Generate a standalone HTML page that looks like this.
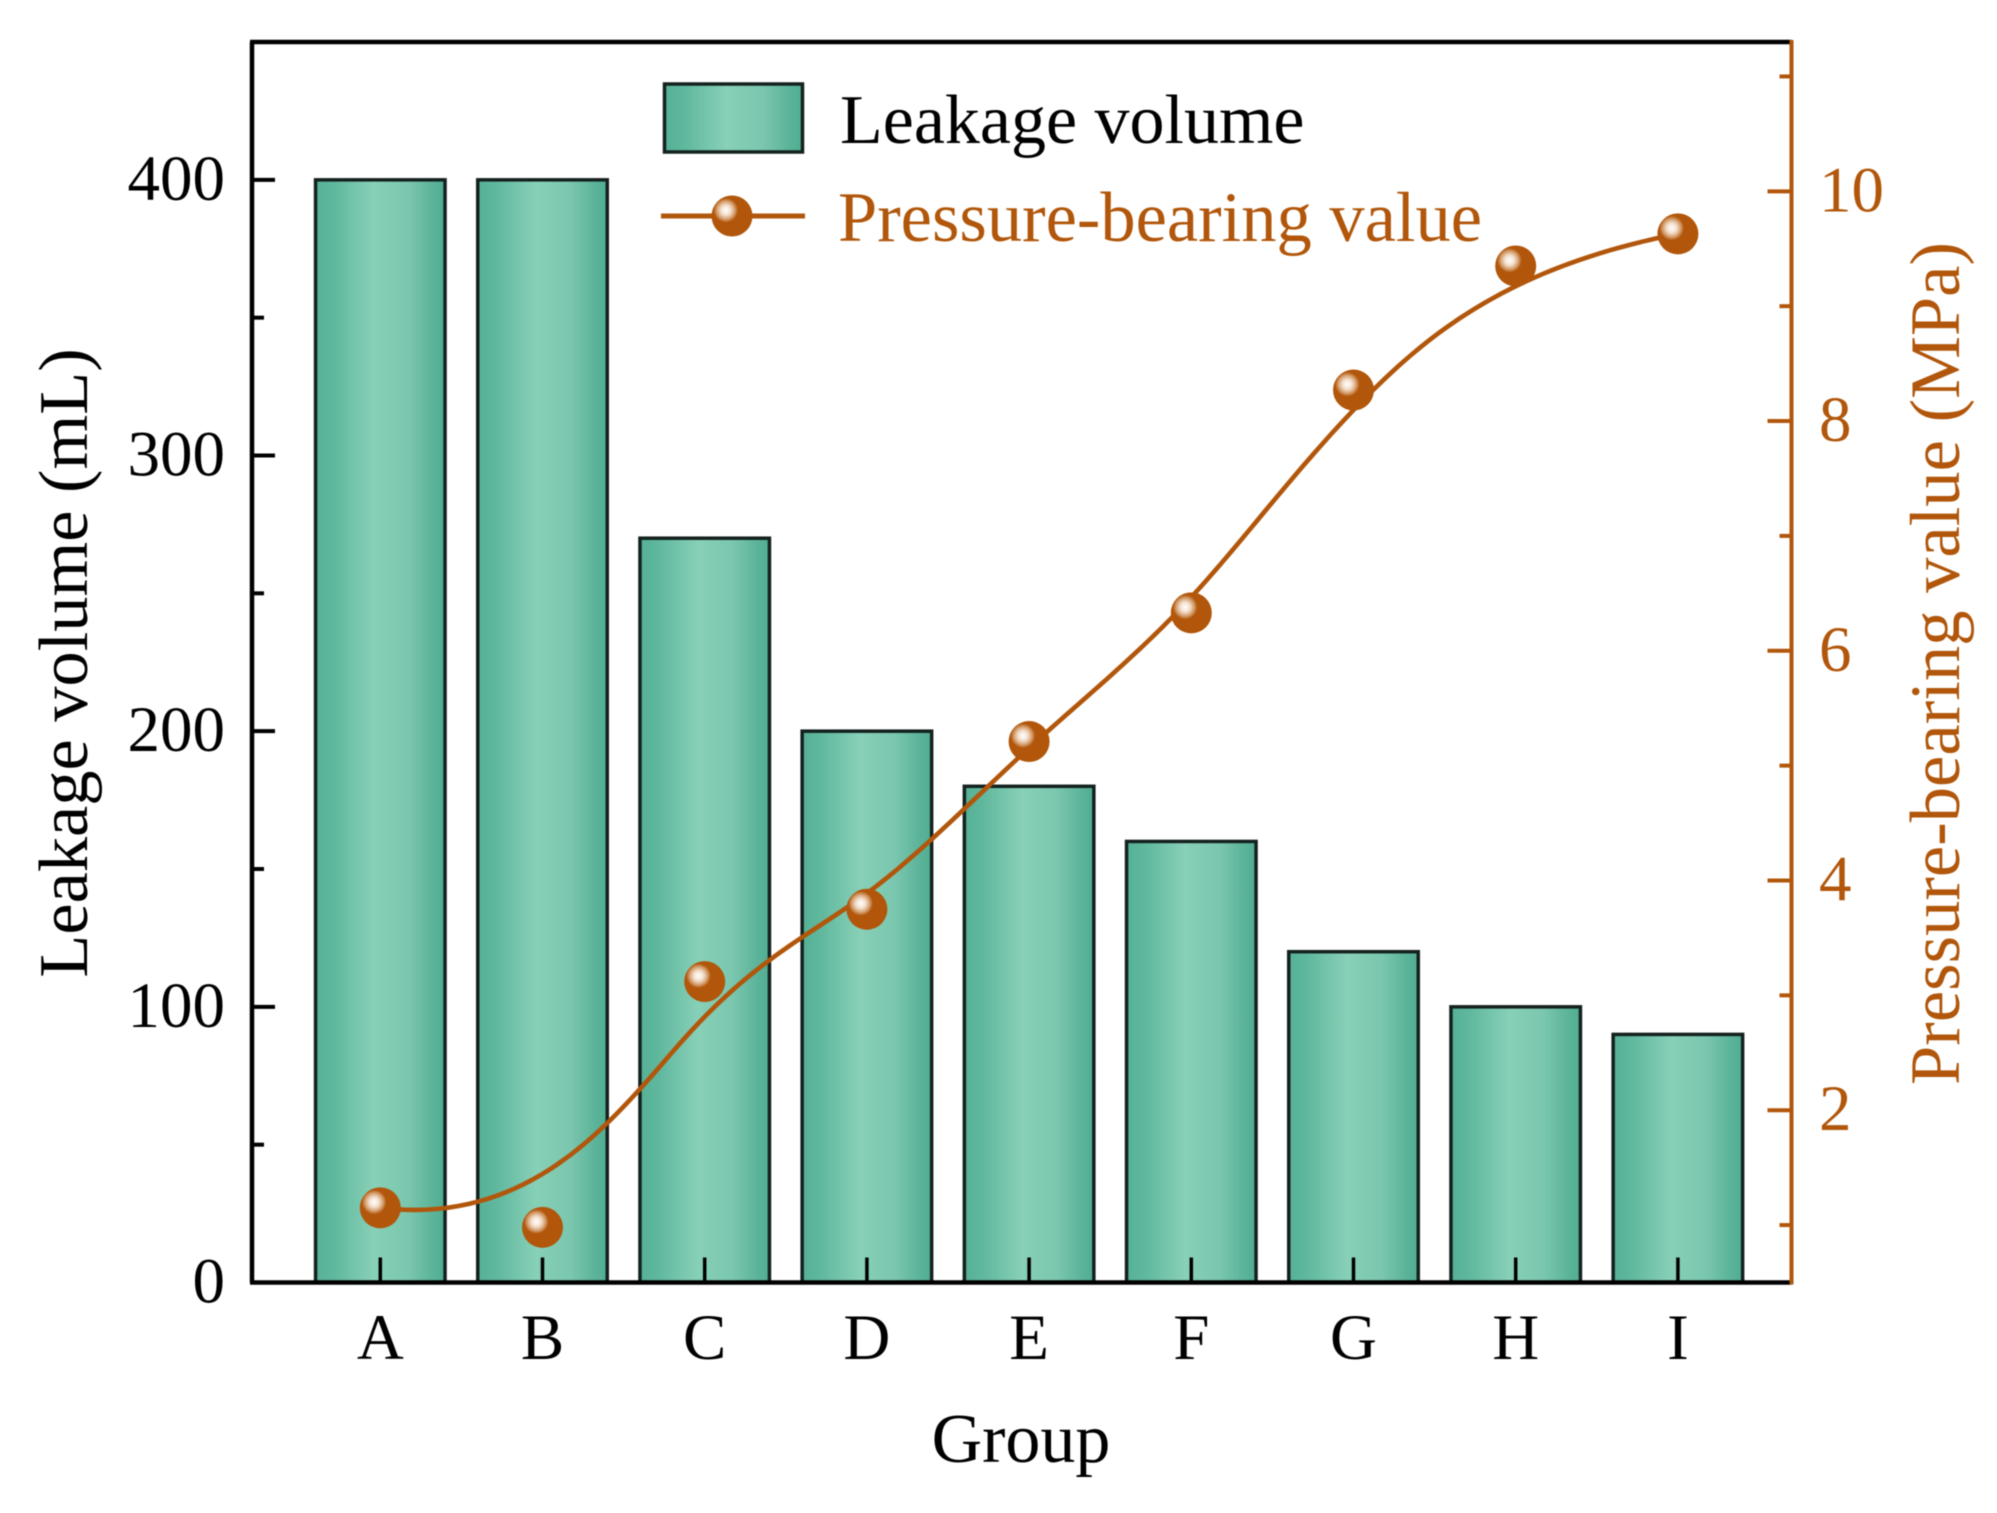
<!DOCTYPE html>
<html lang="en">
<head>
<meta charset="utf-8">
<title>Leakage volume and pressure-bearing value by group</title>
<style>
html,body{margin:0;padding:0;background:#fff;}
svg{display:block;filter:blur(0.55px);}
text{font-family:"Liberation Serif","Times New Roman",serif;}
</style>
</head>
<body>
<svg id="chart" xmlns="http://www.w3.org/2000/svg" width="1997" height="1513" viewBox="0 0 1997 1513">
  <defs>
    <linearGradient id="barFill" x1="0" y1="0" x2="1" y2="0">
      <stop offset="0" stop-color="#55b196"/>
      <stop offset="0.15" stop-color="#60b89e"/>
      <stop offset="0.45" stop-color="#88d0b8"/>
      <stop offset="0.72" stop-color="#7ac6ae"/>
      <stop offset="0.9" stop-color="#5cb49a"/>
      <stop offset="1" stop-color="#50ad92"/>
    </linearGradient>
    <radialGradient id="ballFill" cx="0.35" cy="0.36" r="0.3">
      <stop offset="0" stop-color="#ffffff"/>
      <stop offset="0.4" stop-color="#f3dfcd"/>
      <stop offset="0.75" stop-color="#d39a68"/>
      <stop offset="1" stop-color="#b1560a"/>
    </radialGradient>
  </defs>
  <rect x="0" y="0" width="1997" height="1513" fill="#ffffff"/>
  <g id="bars"></g>
  <g id="axes"></g>
  <g id="series"></g>
  <g>
    <rect x="664.5" y="84" width="138" height="68" fill="url(#barFill)" stroke="#14211e" stroke-width="3.5"/>
    <text x="840" y="143" font-size="70" fill="#000000">Leakage volume</text>
    <line x1="661" y1="216" x2="805" y2="216" stroke="#b1560a" stroke-width="5"/>
    <circle cx="732" cy="216" r="20.5" fill="url(#ballFill)"/>
    <text x="838" y="241" font-size="70.5" fill="#b1560a">Pressure-bearing value</text>
  </g>
  <text x="1021" y="1462" font-size="70" text-anchor="middle" fill="#000000">Group</text>
  <text transform="translate(87 663) rotate(-90)" font-size="70.4" text-anchor="middle" fill="#000000">Leakage volume (mL)</text>
  <text transform="translate(1959 663.5) rotate(-90)" font-size="70.6" text-anchor="middle" fill="#b1560a">Pressure-bearing value (MPa)</text>
</svg>
<script>
var categories = ['A','B','C','D','E','F','G','H','I'];
var leakageVolume = [400,400,270,200,180,160,120,100,90];
var pressureValue = [1.15,0.98,3.12,3.75,5.21,6.33,8.27,9.35,9.63];
var leftTickLabels = [0,100,200,300,400];
var leftMinorTicks = [50,150,250,350];
var rightTickLabels = [2,4,6,8,10];
var rightMinorTicks = [1,3,5,7,9,11];

var NS = 'http://www.w3.org/2000/svg';
var ORANGE = '#b1560a';
var plot = {left:252, right:1791.5, top:42, bottom:1282.5};
var leftDomain = [0,450];
var rightDomain = [0.5,11.3];

function xScale(i){ return 380.3 + i * 162.2; }
function yLeft(v){ return plot.bottom - (v-leftDomain[0])/(leftDomain[1]-leftDomain[0])*(plot.bottom-plot.top); }
function yRight(v){ return plot.bottom - (v-rightDomain[0])/(rightDomain[1]-rightDomain[0])*(plot.bottom-plot.top); }

function make(tag, attrs, parent){
  var el = document.createElementNS(NS, tag);
  for (var k in attrs) el.setAttribute(k, attrs[k]);
  parent.appendChild(el);
  return el;
}

var barsG = document.getElementById('bars');
var axesG = document.getElementById('axes');
var seriesG = document.getElementById('series');
var BAR_W = 129.5;

/* bars */
leakageVolume.forEach(function(v,i){
  var top = yLeft(v);
  var r = make('rect',{x:xScale(i)-BAR_W/2,y:top,width:BAR_W,height:plot.bottom-top,fill:'url(#barFill)',stroke:'#14211e','stroke-width':3.5},barsG);
  
  
});

/* axis spines */
var spineTop = make('line',{x1:plot.left-2,y1:plot.top,x2:plot.right,y2:plot.top,stroke:'#000','stroke-width':4.5},axesG);


var spineBottom = make('line',{x1:plot.left-2,y1:plot.bottom,x2:plot.right,y2:plot.bottom,stroke:'#000','stroke-width':4.5},axesG);


var spineLeft = make('line',{x1:plot.left,y1:plot.top,x2:plot.left,y2:plot.bottom,stroke:'#000','stroke-width':4.5},axesG);


var spineRight = make('line',{x1:plot.right,y1:plot.top-2,x2:plot.right,y2:plot.bottom+2,stroke:ORANGE,'stroke-width':4},axesG);



/* x ticks and labels */
categories.forEach(function(c,i){
  var t = make('line',{x1:xScale(i),y1:plot.bottom,x2:xScale(i),y2:plot.bottom-25,stroke:'#000','stroke-width':3.5},axesG);
  
  
  var l = make('text',{x:xScale(i),y:1359,'font-size':65,'text-anchor':'middle',fill:'#000'},axesG);
  l.textContent = c;
  
  
});

/* left ticks */
leftTickLabels.forEach(function(v){
  var y = yLeft(v);
  var t = make('line',{x1:plot.left,y1:y,x2:plot.left+23,y2:y,stroke:'#000','stroke-width':4},axesG);
  
  
  var l = make('text',{x:225,y:y+20,'font-size':65,'text-anchor':'end',fill:'#000'},axesG);
  l.textContent = v;
  
  
});
leftMinorTicks.forEach(function(v){
  var y = yLeft(v);
  var t = make('line',{x1:plot.left,y1:y,x2:plot.left+12,y2:y,stroke:'#000','stroke-width':4},axesG);
  
  
});

/* right ticks */
rightTickLabels.forEach(function(v){
  var y = yRight(v);
  var t = make('line',{x1:plot.right,y1:y,x2:plot.right-24,y2:y,stroke:ORANGE,'stroke-width':4},axesG);
  
  
  var l = make('text',{x:1819,y:y+20,'font-size':65,'text-anchor':'start',fill:ORANGE},axesG);
  l.textContent = v;
  
  
});
rightMinorTicks.forEach(function(v){
  var y = yRight(v);
  var t = make('line',{x1:plot.right,y1:y,x2:plot.right-12,y2:y,stroke:ORANGE,'stroke-width':4},axesG);
  
  
});

/* clamped cubic B-spline through the readings' control polygon */
function bsplineBasis(i,k,u,knots){
  if (k === 0) {
    var last = knots[knots.length-1];
    if (u === last) return (knots[i] < last && knots[i+1] === last) ? 1 : 0;
    return (knots[i] <= u && u < knots[i+1]) ? 1 : 0;
  }
  var a = 0, b = 0, d1 = knots[i+k]-knots[i], d2 = knots[i+k+1]-knots[i+1];
  if (d1 > 0) a = (u-knots[i])/d1*bsplineBasis(i,k-1,u,knots);
  if (d2 > 0) b = (knots[i+k+1]-u)/d2*bsplineBasis(i+1,k-1,u,knots);
  return a+b;
}
function smoothPath(values){
  var n = values.length, knots = [0,0,0,0], segs = n-3, j;
  for (j = 1; j < segs; j++) knots.push(j);
  knots.push(segs,segs,segs,segs);
  var steps = 240, d = '';
  for (var s = 0; s <= steps; s++) {
    var u = s/steps*segs, px = 0, py = 0;
    for (j = 0; j < n; j++) {
      var w = bsplineBasis(j,3,u,knots);
      px += w*xScale(j);
      py += w*yRight(values[j]);
    }
    d += (s ? 'L' : 'M') + px.toFixed(2) + ' ' + py.toFixed(2);
  }
  return d;
}
var curve = make('path',{d:smoothPath(pressureValue),fill:'none',stroke:ORANGE,'stroke-width':4.6},seriesG);



/* markers */
pressureValue.forEach(function(v,i){
  var c = make('circle',{cx:xScale(i),cy:yRight(v),r:20.5,fill:'url(#ballFill)'},seriesG);
  
  
});
</script>
</body>
</html>
